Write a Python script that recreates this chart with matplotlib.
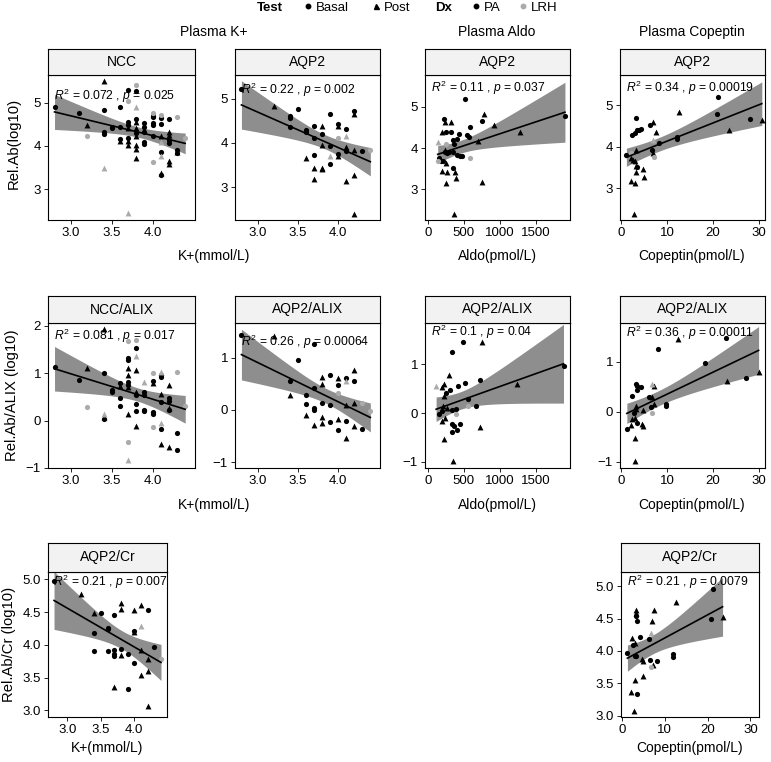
import numpy as np
import matplotlib
matplotlib.use("Agg")
import matplotlib.pyplot as plt
from matplotlib.lines import Line2D

plt.rcParams["font.family"] = ["Liberation Sans", "DejaVu Sans"]
plt.rcParams["mathtext.fontset"] = "custom"
plt.rcParams["mathtext.rm"] = "Liberation Sans"
plt.rcParams["mathtext.it"] = "Liberation Sans:italic"

# group codes: b = Basal/PA, p = Post/PA, B = Basal/LRH, P = Post/LRH

# ---- row 1: Rel.Ab(log10) ----
k_ncc_x = [2.8, 3.4, 3.1, 3.2, 3.2,
           3.4, 3.4, 3.4, 3.4,
           3.5, 3.5,
           3.6, 3.6, 3.6, 3.6,
           3.7, 3.7, 3.7, 3.7, 3.7, 3.7, 3.7, 3.7, 3.7,
           3.8, 3.8, 3.8, 3.8, 3.8, 3.8, 3.8, 3.8, 3.8, 3.8, 3.8,
           3.9, 3.9, 3.9, 3.9, 3.9, 3.9,
           4.0, 4.0, 4.0, 4.0, 4.0, 4.0, 4.0,
           4.1, 4.1, 4.1, 4.1, 4.1, 4.1, 4.1, 4.1, 4.1,
           4.2, 4.2, 4.2, 4.2, 4.2, 4.2, 4.2,
           4.3, 4.3, 4.3, 4.3,
           4.4]
k_ncc_y = [4.89, 5.50, 4.77, 4.49, 4.24,
           4.84, 4.33, 4.28, 3.49,
           4.45, 4.41,
           4.89, 4.45, 4.16, 4.12,
           5.29, 5.04, 4.56, 4.49, 4.41, 4.18, 4.12, 4.03, 2.45,
           5.41, 5.28, 4.89, 4.62, 4.56, 4.41, 4.29, 4.22, 4.03, 3.93, 3.72,
           4.52, 4.45, 4.37, 4.33, 4.10, 4.04,
           4.76, 4.70, 4.66, 4.52, 4.48, 4.22, 3.62,
           4.72, 4.64, 4.50, 4.22, 4.10, 3.85, 3.76, 3.37, 3.33,
           4.62, 4.32, 4.26, 4.14, 4.08, 3.66, 3.59,
           4.66, 3.91, 3.87, 3.83,
           4.18]
k_ncc_grp = ("bpbpB" "bbbP" "bb" "bbbp" "bBbbpbppP" "BbPbppbpppp" "bbpbbb"
             "BbbbbbB" "BbbpPbPpb" "bppbbpp" "Bbpb" "B")

k_aqp2_x = [2.8, 3.2, 3.4, 3.4, 3.4, 3.5, 3.6, 3.6, 3.6,
            3.7, 3.7, 3.7, 3.7, 3.7,
            3.8, 3.8, 3.8, 3.8, 3.8,
            3.9, 3.9, 3.9, 3.9,
            4.0, 4.0, 4.0, 4.0, 4.0,
            4.1, 4.1, 4.1, 4.1, 4.1,
            4.2, 4.2, 4.2, 4.2, 4.2,
            4.3, 4.4]
k_aqp2_y = [5.21, 4.83, 4.60, 4.55, 4.36, 4.77, 4.30, 4.25, 3.65,
            4.38, 4.11, 3.72, 3.44, 3.18,
            4.38, 4.19, 3.96, 3.44, 3.41,
            4.66, 3.93, 3.70, 3.53,
            4.42, 4.38, 4.11, 3.74, 3.70,
            4.32, 4.16, 3.91, 3.81, 3.14,
            4.71, 4.64, 3.84, 3.27, 2.39,
            3.82, 3.83]
k_aqp2_grp = "bp" "bbb" "b" "bbp" "bbbpp" "pbppp" "bbPb" "bpBbp" "bPpbp" "bpppp" "bB"

aldo_aqp2_x = [136, 140, 160, 175, 191, 191, 205, 218, 240, 240, 241, 245, 250, 250,
               255, 262, 264, 295, 318, 318, 350, 355, 355, 364, 364, 377, 386, 409,
               409, 436, 445, 473, 509, 536, 573, 577, 582, 691, 750, 755, 777, 914,
               1282, 1900]
aldo_aqp2_y = [4.15, 3.68, 3.75, 3.69, 4.38, 3.44, 3.69, 4.70, 3.95, 3.90, 4.64, 4.10, 3.65, 3.16,
               4.38, 3.88, 3.43, 3.91, 4.40, 4.64, 3.91, 4.20, 3.53, 4.10, 2.41, 3.43, 3.27, 4.22,
               3.83, 4.35, 3.80, 3.80, 5.20, 4.31, 4.27, 4.52, 3.77, 4.17, 3.19, 4.65, 4.82, 4.56,
               4.38, 4.77]
aldo_aqp2_grp = "PBbbppbbpbpBpp" "bbpbbpbbbbppp" "bbbbbbbbbB" "ppbpppb"

cop_aqp2_x = [1.1, 2.0, 2.0, 2.2, 2.4, 2.6, 2.7, 2.9, 2.9, 3.0, 3.1, 3.3, 3.3, 3.3, 3.4, 3.4,
              3.9, 4.4, 4.7, 4.9, 6.3, 6.6, 6.9, 7.0, 7.0, 7.2, 7.5, 8.3, 12.1, 12.1, 12.7,
              20.8, 21.1, 23.6, 28.1, 30.7]
cop_aqp2_y = [3.80, 3.74, 3.18, 3.84, 4.28, 3.68, 2.39, 4.34, 3.14, 3.66, 3.40, 4.70, 3.92, 3.54,
              4.39, 3.52, 4.41, 4.43, 3.46, 3.28, 4.52, 3.92, 3.84, 4.60, 4.16, 3.76, 4.36, 4.10,
              4.24, 4.18, 4.84, 4.78, 5.20, 4.40, 4.66, 4.64]
cop_aqp2_grp = "bppBbppbpppbppbb" "bbppbbppPBpbbbp" "bbpbp"

# ---- row 2: Rel.Ab/ALIX (log10) ----
k_ncc_alix_x = [2.8, 3.1, 3.2, 3.2,
                3.4, 3.4, 3.4, 3.4, 3.4,
                3.5, 3.5,
                3.6, 3.6, 3.6, 3.6,
                3.7, 3.7, 3.7, 3.7, 3.7, 3.7, 3.7, 3.7, 3.7, 3.7, 3.7,
                3.8, 3.8, 3.8, 3.8, 3.8, 3.8, 3.8, 3.8, 3.8,
                3.9, 3.9, 3.9, 3.9, 3.9,
                4.0, 4.0, 4.0, 4.0, 4.0, 4.0,
                4.1, 4.1, 4.1, 4.1, 4.1, 4.1, 4.1, 4.1,
                4.2, 4.2, 4.2, 4.2, 4.2, 4.2,
                4.3, 4.3, 4.3,
                4.4]
k_ncc_alix_y = [1.14, 0.86, 1.11, 0.28,
                1.94, 1.01, 0.13, 0.08, 0.04,
                0.65, 0.61,
                0.79, 0.72, 0.47, 0.31,
                1.67, 1.33, 1.28, 1.11, 0.96, 0.81, 0.76, 0.70, 0.13, -0.46, -0.83,
                1.70, 1.54, 1.37, 1.07, 0.60, 0.54, 0.36, 0.20, -0.11,
                0.81, 0.60, 0.55, 0.23, 0.20,
                1.00, 0.84, 0.79, 0.18, 0.13, -0.13,
                1.02, 0.96, 0.91, 0.56, 0.40, -0.05, -0.17, -0.50,
                0.75, 0.47, 0.42, 0.26, 0.22, -0.55,
                1.02, -0.27, -0.62,
                0.30]
k_ncc_alix_grp = ("bbpB" "pbPpb" "bb" "bpbb" "BbbppbbppBP" "BbPppbbbp" "Pbbbb"
                  "BbpbbB" "PbbpbPbp" "pbbpbp" "Bbb" "B")

k_aqp2_alix_x = [2.8, 3.2, 3.4, 3.4, 3.5, 3.6, 3.6, 3.6,
                 3.7, 3.7, 3.7, 3.7, 3.7,
                 3.8, 3.8, 3.8, 3.8, 3.8,
                 3.9, 3.9, 3.9,
                 4.0, 4.0, 4.0, 4.0, 4.0,
                 4.1, 4.1, 4.1, 4.1, 4.1,
                 4.2, 4.2, 4.2, 4.2,
                 4.3, 4.3, 4.4]
k_aqp2_alix_y = [1.44, 1.42, 0.55, 0.29, 0.95, 0.29, 0.12, -0.10,
                 1.25, 0.41, 0.03, 0.00, -0.29,
                 0.63, 0.49, 0.13, -0.13, -0.25,
                 0.66, 0.09, -0.24,
                 0.60, 0.47, 0.33, -0.17, -0.39,
                 0.60, 0.55, 0.09, -0.21, -0.53,
                 0.77, 0.55, 0.13, -0.30,
                 0.13, -0.36, -0.03]
k_aqp2_alix_grp = "bpbpbbbp" "bbbbp" "ppbpp" "bbb" "pbBpb" "bPpbp" "pbpp" "BbB"

aldo_aqp2_alix_x = [114, 159, 191, 191, 200, 210, 227, 227, 227, 240, 245, 260, 291, 300,
                    332, 332, 332, 341, 350, 364, 386, 386, 409, 418, 450, 486, 514, 559,
                    559, 664, 718, 723, 750, 1236, 1880]
aldo_aqp2_alix_y = [0.56, -0.02, 0.53, -0.17, 0.05, 0.14, 0.60, 0.34, -0.53, -0.10, 0.42, 0.10, 0.78, 0.48,
                    0.07, -0.22, -0.40, 1.26, -0.99, -0.27, 0.08, -0.03, -0.35, 0.55, -0.22, 1.46, 0.61, 0.29,
                    0.14, 0.14, -0.29, 0.67, 1.45, 0.60, 0.96]
aldo_aqp2_alix_grp = "Pbppbpppppbp" "pbbbbbpbbBbbbbbb" "Bbpbppb"

cop_aqp2_alix_x = [1.2, 2.1, 2.3, 2.4, 2.7, 2.9, 2.9, 3.0, 3.2, 3.2, 3.2, 3.4, 3.5, 3.5, 4.2, 4.5,
                   4.7, 4.8, 6.1, 6.4, 6.6, 6.8, 6.8, 7.2, 7.2, 8.1, 9.7, 9.8, 12.4, 18.3, 22.8,
                   23.0, 27.3, 30.0]
cop_aqp2_alix_y = [-0.35, -0.27, -0.15, 0.31, -0.02, -0.12, -0.98, -0.52, 0.56, 0.11, 0.06, 0.51, 0.43,
                   -0.22, 0.49, -0.25, 0.03, -0.29, 0.29, 0.10, -0.02, 0.56, 0.30, 0.51, 0.16, 1.26,
                   0.15, 0.11, 1.46, 0.98, 1.47, 0.61, 0.68, 0.79]
cop_aqp2_alix_grp = "bppbbpppbppbbbbppp" "bbBPpppbbbpbbpbp"

# ---- row 3: Rel.Ab/Cr (log10) ----
k_aqp2_cr_x = [2.8, 3.2, 3.4, 3.4, 3.4, 3.5, 3.6, 3.6, 3.6,
               3.7, 3.7, 3.7, 3.7, 3.7,
               3.8, 3.8, 3.8, 3.8,
               3.9, 3.9,
               4.0, 4.0, 4.0, 4.0,
               4.1, 4.1, 4.1, 4.1,
               4.2, 4.2, 4.2, 4.2,
               4.3, 4.4]
k_aqp2_cr_y = [4.97, 4.77, 4.48, 4.18, 3.91, 4.49, 4.26, 4.24, 3.91,
               4.45, 3.92, 3.86, 3.83, 3.36,
               4.64, 4.55, 3.94, 3.84,
               3.86, 3.32,
               4.53, 4.21, 4.19, 3.73,
               4.61, 4.28, 3.92, 3.54,
               4.53, 3.78, 3.60, 3.07,
               3.96, 3.78]
k_aqp2_cr_grp = "bppbbbbbb" "bbbbp" "ppbp" "bb" "pbpb" "pPpp" "bppp" "bB"

cop_aqp2_cr_x = [1.3, 2.1, 2.3, 2.5, 2.9, 3.0, 3.0, 3.1, 3.3, 3.3, 3.3, 3.4, 3.5, 3.6, 4.3, 4.7,
                 4.9, 5.0, 6.4, 6.6, 6.7, 6.9, 7.0, 7.2, 7.5, 8.3, 11.9, 12.0, 12.6, 20.9, 21.2,
                 23.5]
cop_aqp2_cr_y = [3.97, 3.37, 4.20, 4.10, 3.08, 3.55, 3.92, 4.13, 3.92, 4.63, 4.58, 4.54, 3.34, 4.46,
                 4.22, 3.87, 3.85, 3.61, 4.18, 3.86, 3.75, 4.28, 4.47, 3.79, 4.64, 3.85, 3.95, 3.91,
                 4.76, 4.50, 4.96, 4.53]
cop_aqp2_cr_grp = "bppbppbpbppbbbbp" "ppbbBPpppbbbpbbp"

stat_r2 = ["0.072", "0.22", "0.11", "0.34", "0.081", "0.26", "0.1", "0.36", "0.21", "0.21"]
stat_p = ["0.025", "0.002", "0.037", "0.00019", "0.017", "0.00064", "0.04", "0.00011", "0.007", "0.0079"]

W, H = 771, 762
BAND = "#8E8E8E"
LRH_GREY = "#ABABAB"
STYLE = {"b": ("o", "black"), "p": ("^", "black"),
         "B": ("o", LRH_GREY), "P": ("^", LRH_GREY)}


def frac(l, t, r, b):
    return [l / W, 1 - b / H, (r - l) / W, (b - t) / H]


def t975(df):
    z = 1.959964
    return z + (z**3 + z) / (4 * df) + (5 * z**5 + 16 * z**3 + 3 * z) / (96 * df**2)


def fit_band(x, y, n=100):
    """OLS line with 95% confidence band of the mean."""
    b1, b0 = np.polyfit(x, y, 1)
    xs = np.linspace(x.min(), x.max(), n)
    fit = b0 + b1 * xs
    resid = y - (b0 + b1 * x)
    dof = len(x) - 2
    s = np.sqrt(np.sum(resid**2) / dof)
    sxx = np.sum((x - x.mean())**2)
    se = s * np.sqrt(1 / len(x) + (xs - x.mean())**2 / sxx)
    ci = t975(dof) * se
    return xs, fit, fit - ci, fit + ci


def draw_panel(box, strip, x, y, grp, r2, p, xlim, ylim, xticks, yticks, label_y):
    l, ts, tp, r, b = box
    x = np.asarray(x, dtype=float)
    y = np.asarray(y, dtype=float)
    grp = np.array(list(grp))

    ax = fig.add_axes(frac(l, tp, r, b))
    xs, fit, lo, hi = fit_band(x, y)
    ax.fill_between(xs, lo, hi, color=BAND, lw=0, zorder=1)
    for code, (marker, color) in STYLE.items():
        m = grp == code
        if m.any():
            ax.scatter(x[m], y[m], marker=marker, color=color, s=14 if marker == "o" else 18,
                       linewidths=0, zorder=3)
    ax.plot(xs, fit, color="black", lw=1.2, zorder=4)

    ax.text(0.04, label_y, rf"$R^2$ = {r2} , $p$ = {p}", transform=ax.transAxes,
            ha="left", va="center", fontsize=8.7, zorder=5)

    ax.set_xlim(*xlim)
    ax.set_ylim(*ylim)
    ax.set_xticks(xticks)
    ax.set_yticks(yticks)
    ax.tick_params(direction="out", length=3, width=0.6, labelsize=9.5, pad=2,
                   colors="black")
    for sp in ax.spines.values():
        sp.set_linewidth(0.8)

    sax = fig.add_axes(frac(l, ts, r, tp))
    sax.set_facecolor("#F2F2F2")
    sax.set_xticks([])
    sax.set_yticks([])
    for sp in sax.spines.values():
        sp.set_linewidth(0.8)
    sax.text(0.5, 0.5, strip, ha="center", va="center", fontsize=10, transform=sax.transAxes)
    return ax


fig = plt.figure(figsize=(W / 100, H / 100), dpi=100)

K_TICKS = [3.0, 3.5, 4.0]
ALDO_TICKS = [0, 500, 1000, 1500]
COP_TICKS = [0, 10, 20, 30]

# row 1
draw_panel((48, 49, 75, 195, 220), "NCC", k_ncc_x, k_ncc_y, k_ncc_grp, stat_r2[0], stat_p[0],
           (2.72, 4.52), (2.29, 5.64), K_TICKS, [3, 4, 5], 0.855)
draw_panel((235, 49, 75, 380, 220), "AQP2", k_aqp2_x, k_aqp2_y, k_aqp2_grp, stat_r2[1], stat_p[1],
           (2.72, 4.52), (2.26, 5.53), K_TICKS, [3, 4, 5], 0.90)
draw_panel((425, 49, 75, 570, 220), "AQP2", aldo_aqp2_x, aldo_aqp2_y, aldo_aqp2_grp, stat_r2[2], stat_p[2],
           (-40, 1970), (2.26, 5.77), ALDO_TICKS, [3, 4, 5], 0.91)
draw_panel((620, 49, 75, 765, 220), "AQP2", cop_aqp2_x, cop_aqp2_y, cop_aqp2_grp, stat_r2[3], stat_p[3],
           (-0.3, 31.4), (2.24, 5.72), COP_TICKS, [3, 4, 5], 0.91)

# row 2
draw_panel((48, 296, 323, 195, 468), "NCC/ALIX", k_ncc_alix_x, k_ncc_alix_y, k_ncc_alix_grp,
           stat_r2[4], stat_p[4], (2.72, 4.52), (-0.99, 2.06), K_TICKS, [-1, 0, 1, 2], 0.91)
draw_panel((235, 296, 323, 380, 468), "AQP2/ALIX", k_aqp2_alix_x, k_aqp2_alix_y, k_aqp2_alix_grp,
           stat_r2[5], stat_p[5], (2.72, 4.52), (-1.11, 1.66), K_TICKS, [-1, 0, 1], 0.87)
draw_panel((425, 296, 323, 570, 468), "AQP2/ALIX", aldo_aqp2_alix_x, aldo_aqp2_alix_y, aldo_aqp2_alix_grp,
           stat_r2[6], stat_p[6], (-40, 1970), (-1.13, 1.85), ALDO_TICKS, [-1, 0, 1], 0.94)
draw_panel((620, 296, 323, 765, 468), "AQP2/ALIX", cop_aqp2_alix_x, cop_aqp2_alix_y, cop_aqp2_alix_grp,
           stat_r2[7], stat_p[7], (-0.3, 31.4), (-1.13, 1.78), COP_TICKS, [-1, 0, 1], 0.93)

# row 3
draw_panel((48, 543, 572, 167, 717), "AQP2/Cr", k_aqp2_cr_x, k_aqp2_cr_y, k_aqp2_cr_grp,
           stat_r2[8], stat_p[8], (2.71, 4.49), (2.90, 5.11), K_TICKS, [3.0, 3.5, 4.0, 4.5, 5.0], 0.93)
draw_panel((621, 543, 572, 759, 717), "AQP2/Cr", cop_aqp2_cr_x, cop_aqp2_cr_y, cop_aqp2_cr_grp,
           stat_r2[9], stat_p[9], (-0.2, 32), (2.98, 5.22), COP_TICKS, [3.0, 3.5, 4.0, 4.5, 5.0], 0.93)

# column titles and axis labels
for txt, cx in [("Plasma K+", 214), ("Plasma Aldo", 497), ("Plasma Copeptin", 692)]:
    fig.text(cx / W, 1 - 32 / H, txt, ha="center", va="center", fontsize=10)
for txt, cx, cy in [("K+(mmol/L)", 214, 256), ("Aldo(pmol/L)", 497, 256), ("Copeptin(pmol/L)", 692, 256),
                    ("K+(mmol/L)", 214, 505), ("Aldo(pmol/L)", 497, 505), ("Copeptin(pmol/L)", 692, 505),
                    ("K+(mmol/L)", 107, 748), ("Copeptin(pmol/L)", 690, 748)]:
    fig.text(cx / W, 1 - cy / H, txt, ha="center", va="center", fontsize=10)
for txt, cx, cy in [("Rel.Ab(log10)", 14, 143), ("Rel.Ab/ALIX (log10)", 12, 395),
                    ("Rel.Ab/Cr (log10)", 9, 644)]:
    fig.text(cx / W, 1 - cy / H, txt, ha="center", va="center", rotation=90, fontsize=10.7)

# legend row
ly = 1 - 8 / H
fig.text(257 / W, ly, "Test", ha="left", va="center", fontsize=9.5, fontweight="bold")
fig.text(435 / W, ly, "Dx", ha="left", va="center", fontsize=9.5, fontweight="bold")
h_basal = Line2D([], [], ls="none", marker="o", color="black", markersize=3.2)
h_post = Line2D([], [], ls="none", marker="^", color="black", markersize=3.6)
h_pa = Line2D([], [], ls="none", marker="o", color="black", markersize=3.2)
h_lrh = Line2D([], [], ls="none", marker="o", color=LRH_GREY, markersize=3.2)
leg_kw = dict(loc="center left", ncol=2, frameon=False, fontsize=9.5, handlelength=0.8,
              handletextpad=0.2, borderpad=0, borderaxespad=0)
leg1 = fig.legend([h_basal, h_post], ["Basal", "Post"], bbox_to_anchor=(303 / W, ly),
                  columnspacing=1.6, **leg_kw)
leg2 = fig.legend([h_pa, h_lrh], ["PA", "LRH"], bbox_to_anchor=(471 / W, ly),
                  columnspacing=1.3, **leg_kw)

fig.savefig("out.png", dpi=100)
